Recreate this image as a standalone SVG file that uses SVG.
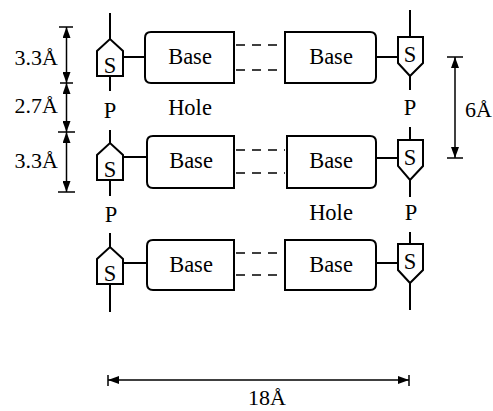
<svg xmlns="http://www.w3.org/2000/svg" width="493" height="411" viewBox="0 0 493 411">
<style>
.sh{fill:#fff;stroke:#000;stroke-width:2;stroke-linejoin:miter}
.ln{stroke:#000;stroke-width:2;fill:none}
.dl{stroke:#000;stroke-width:1.5;fill:none}
.ds{stroke:#000;stroke-width:1.5;fill:none;stroke-dasharray:9 7}
.t{font-family:"Liberation Serif","Times New Roman",serif;font-size:22.5px;fill:#000}
.d{font-family:"Liberation Serif","Times New Roman",serif;font-size:22px;fill:#000}
.c{text-anchor:middle}
.e{text-anchor:end}
</style>
<defs>
<marker id="ar" viewBox="0 0 11 8" refX="11" refY="4" markerWidth="11" markerHeight="8" markerUnits="userSpaceOnUse" orient="auto-start-reverse">
<path d="M0,0 L11,4 L0,8 Z" fill="#000"/>
</marker>
</defs>
<rect width="493" height="411" fill="#fff"/>

<g id="connectors">
<line class="ln" x1="110" y1="13" x2="110" y2="39"/>
<line class="ln" x1="110" y1="76" x2="110" y2="91"/>
<line class="ln" x1="110" y1="130" x2="110" y2="143"/>
<line class="ln" x1="110" y1="180" x2="110" y2="196"/>
<line class="ln" x1="110" y1="233" x2="110" y2="247"/>
<line class="ln" x1="110" y1="284" x2="110" y2="312"/>
<line class="ln" x1="410" y1="10" x2="410" y2="37"/>
<line class="ln" x1="410" y1="76" x2="410" y2="90"/>
<line class="ln" x1="410" y1="127" x2="410" y2="140"/>
<line class="ln" x1="410" y1="180" x2="410" y2="197"/>
<line class="ln" x1="410" y1="232" x2="410" y2="244"/>
<line class="ln" x1="410" y1="283" x2="410" y2="310"/>
<line class="ln" x1="123" y1="57" x2="145" y2="57"/>
<line class="ln" x1="123" y1="157" x2="147" y2="157"/>
<line class="ln" x1="123" y1="263" x2="147" y2="263"/>
<line class="ln" x1="376" y1="57" x2="398" y2="57"/>
<line class="ln" x1="376" y1="158" x2="398" y2="158"/>
<line class="ln" x1="376" y1="263" x2="398" y2="263"/>
<line class="ds" x1="236" y1="45" x2="285" y2="45"/>
<line class="ds" x1="236" y1="70" x2="285" y2="70"/>
<line class="ds" x1="236" y1="150" x2="285" y2="150"/>
<line class="ds" x1="236" y1="173" x2="285" y2="173"/>
<line class="ds" x1="236" y1="253" x2="285" y2="253"/>
<line class="ds" x1="236" y1="275" x2="285" y2="275"/>
</g>

<g id="sugar-left-1"><path class="sh" d="M97,76 L97,51 L110,39 L123,51 L123,76 Z"/><text class="t c" x="110" y="73">S</text></g>
<g id="sugar-left-2"><path class="sh" d="M97,180 L97,155 L110,143 L123,155 L123,180 Z"/><text class="t c" x="110" y="177">S</text></g>
<g id="sugar-left-3"><path class="sh" d="M97,284 L97,259 L110,247 L123,259 L123,284 Z"/><text class="t c" x="110" y="281">S</text></g>

<g id="sugar-right-1"><path class="sh" d="M398,37 L423,37 L423,63 L410,76 L398,63 Z"/><text class="t c" x="410" y="62">S</text></g>
<g id="sugar-right-2"><path class="sh" d="M398,140 L423,140 L423,166 L410,180 L398,166 Z"/><text class="t c" x="410" y="165">S</text></g>
<g id="sugar-right-3"><path class="sh" d="M398,244 L423,244 L423,270 L410,283 L398,270 Z"/><text class="t c" x="410" y="269">S</text></g>

<g id="base-left-1"><path class="sh" d="M234,32 L151,32 Q145,32 145,38 L145,77 Q145,83 151,83 L234,83 Z"/><text class="t c" x="190" y="64">Base</text></g>
<g id="base-left-2"><path class="sh" d="M234,136 L153,136 Q147,136 147,142 L147,182 Q147,188 153,188 L234,188 Z"/><text class="t c" x="191" y="168">Base</text></g>
<g id="base-left-3"><path class="sh" d="M234,240 L153,240 Q147,240 147,246 L147,284 Q147,290 153,290 L234,290 Z"/><text class="t c" x="191" y="272">Base</text></g>

<g id="base-right-1"><path class="sh" d="M285,32 L370,32 Q376,32 376,38 L376,77 Q376,83 370,83 L285,83 Z"/><text class="t c" x="331" y="64">Base</text></g>
<g id="base-right-2"><path class="sh" d="M287,136 L370,136 Q376,136 376,142 L376,182 Q376,188 370,188 L287,188 Z"/><text class="t c" x="331" y="168">Base</text></g>
<g id="base-right-3"><path class="sh" d="M285,240 L370,240 Q376,240 376,246 L376,284 Q376,290 370,290 L285,290 Z"/><text class="t c" x="331" y="272">Base</text></g>

<g id="labels">
<text class="t c" x="110" y="118">P</text>
<text class="t c" x="410" y="115">P</text>
<text class="t c" x="111" y="222">P</text>
<text class="t c" x="411" y="220">P</text>
<text class="t c" x="190" y="115">Hole</text>
<text class="t c" x="331" y="220">Hole</text>
</g>

<g id="dim-left">
<line class="dl" x1="59" y1="27" x2="73" y2="27"/>
<line class="dl" x1="60" y1="83" x2="73" y2="83"/>
<line class="dl" x1="58" y1="132" x2="75" y2="132"/>
<line class="dl" x1="58" y1="192" x2="75" y2="192"/>
<line class="dl" x1="66.5" y1="27" x2="66.5" y2="83" marker-start="url(#ar)" marker-end="url(#ar)"/>
<line class="dl" x1="66.5" y1="83" x2="66.5" y2="132" marker-start="url(#ar)" marker-end="url(#ar)"/>
<line class="dl" x1="66.5" y1="132" x2="66.5" y2="192" marker-start="url(#ar)" marker-end="url(#ar)"/>
<text class="d e" x="58" y="65">3.3Å</text>
<text class="d e" x="58" y="113">2.7Å</text>
<text class="d e" x="58" y="168">3.3Å</text>
</g>

<g id="dim-right">
<line class="dl" x1="447" y1="57" x2="463" y2="57"/>
<line class="dl" x1="447" y1="158" x2="463" y2="158"/>
<line class="dl" x1="455" y1="57" x2="455" y2="158" marker-start="url(#ar)" marker-end="url(#ar)"/>
<text class="d" x="465" y="117">6Å</text>
</g>

<g id="dim-bottom">
<line class="dl" x1="108" y1="375" x2="108" y2="386"/>
<line class="dl" x1="409" y1="375" x2="409" y2="386"/>
<line class="dl" x1="108" y1="380" x2="409" y2="380" marker-start="url(#ar)" marker-end="url(#ar)"/>
<text class="d c" x="267" y="405">18Å</text>
</g>
</svg>
